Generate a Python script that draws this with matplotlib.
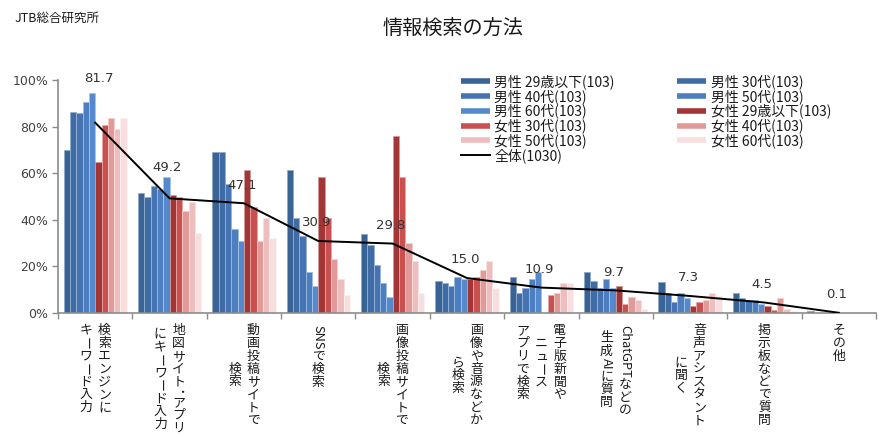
import re
import numpy as np
import matplotlib
matplotlib.use("Agg")
import matplotlib.pyplot as plt
from matplotlib.lines import Line2D

plt.rcParams['font.family'] = ['Noto Sans CJK JP', 'DejaVu Sans']

# ---------------- data ----------------
categories = [
    "検索エンジンに\nキーワード入力",
    "地図サイト・アプリ\nにキーワード入力",
    "動画投稿サイトで\n検索",
    "SNSで検索",
    "画像投稿サイトで\n検索",
    "画像や音源などか\nら検索",
    "電子版新聞や\nニュース\nアプリで検索",
    "ChatGPTなどの\n生成AIに質問",
    "音声アシスタント\nに聞く",
    "掲示板などで質問",
    "その他",
]

series_names = [
    "男性 29歳以下(103)", "男性 30代(103)", "男性 40代(103)", "男性 50代(103)", "男性 60代(103)",
    "女性 29歳以下(103)", "女性 30代(103)", "女性 40代(103)", "女性 50代(103)", "女性 60代(103)",
]
total_name = "全体(1030)"

m29 = [70.0, 51.4, 69.1, 61.4, 34.0, 13.6, 15.4, 17.4, 13.3, 8.4, 1.0]
m30 = [86.4, 49.6, 69.1, 40.9, 29.1, 12.7, 8.6, 13.6, 8.4, 6.6, 0.0]
m40 = [85.7, 54.5, 55.5, 33.2, 20.5, 11.7, 10.9, 10.9, 4.8, 5.6, 0.0]
m50 = [90.6, 53.4, 35.9, 17.7, 12.7, 15.4, 14.4, 14.4, 8.4, 5.7, 0.0]
m60 = [94.3, 58.3, 30.9, 11.8, 6.8, 14.4, 17.4, 10.9, 6.6, 3.8, 0.0]
f29 = [64.9, 50.5, 61.4, 58.3, 76.0, 14.7, 0.0, 11.7, 3.0, 3.0, 0.0]
f30 = [80.6, 49.6, 45.4, 40.9, 58.3, 15.4, 7.6, 3.7, 4.8, 1.4, 0.0]
f40 = [83.7, 43.6, 30.9, 23.2, 30.1, 18.4, 8.6, 6.7, 5.7, 6.6, 0.0]
f50 = [78.8, 47.7, 40.8, 14.5, 22.4, 22.3, 12.7, 5.7, 8.4, 1.9, 0.0]
f60 = [83.7, 34.2, 32.0, 7.6, 8.6, 10.7, 12.7, 1.7, 7.4, 1.0, 0.0]
total = [81.7, 49.2, 47.1, 30.9, 29.8, 15.0, 10.9, 9.7, 7.3, 4.5, 0.1]

series_values = [m29, m30, m40, m50, m60, f29, f30, f40, f50, f60]

colors = ["#3A6395", "#3F6CA5", "#4674B3", "#4C7EC0", "#5589CE",
          "#A23535", "#C9504E", "#E29A99", "#EEBDBD", "#F8DEDE"]
edge_colors = ["#8FA8C8", "#93AED2", "#98B3D8", "#9DBCE0", "#A6C5EA",
               "#D49A9A", "#E6A5A4", "#F2CDCC", "#F7E0E0", "#FDF2F2"]

# ---------------- figure ----------------
fig = plt.figure(figsize=(8.91, 4.37), dpi=100)
ax = fig.add_axes([58/891, 1-313/437, (876-58)/891, (313-80)/437])

n = len(categories)
x = np.arange(n)
bw = 0.085
for j, (vals, col, ec) in enumerate(zip(series_values, colors, edge_colors)):
    ax.bar(x + (j - 4.5) * bw, vals, width=bw, color=col, edgecolor=ec, linewidth=0.6,
           label=series_names[j], zorder=2)

ax.plot(x, total, color='black', lw=1.4, zorder=3, label=total_name)

label_offsets = [(3, 32)] + [(-1.5, 22.5)] + [(-1.5, 13)] * (n - 2)
for xi, v, (dx, dy) in zip(x, total, label_offsets):
    ax.annotate(f"{v:.1f}", xy=(xi, v), xytext=(dx, dy), textcoords='offset points',
                ha='center', va='center', fontsize=9.5, color='#333333',
                family='DejaVu Sans', zorder=4)

ax.set_xlim(-0.5, n - 0.5)
ax.set_ylim(0, 100)
ax.set_yticks(np.arange(0, 101, 20))
ax.set_yticklabels([f"{t}%" for t in range(0, 101, 20)], family='DejaVu Sans',
                   fontsize=9, color='#404040')
ax.set_xticks(np.arange(-0.5, n, 1))
ax.set_xticklabels([])
for s in ['top', 'right']:
    ax.spines[s].set_visible(False)
for s in ['left', 'bottom']:
    ax.spines[s].set_color('#8C8C8C')
    ax.spines[s].set_linewidth(1.2)
ax.tick_params(direction='out', length=4, color='#8C8C8C', width=1)
ax.tick_params(axis='y', pad=3)

# ---------------- vertical category labels ----------------
renderer = fig.canvas.get_renderer()
FS = 9.3
COLGAP = 13.3
TOP = 7.8
trans = ax.get_xaxis_transform()


def tokens(s):
    out = []
    for m in re.finditer(r'[A-Za-z0-9]+|.', s):
        t = m.group(0)
        if re.match(r'[A-Za-z0-9]', t):
            out.append(('lat', t))
        elif t in 'ー':
            out.append(('rot', t))
        elif t in '・':
            out.append(('dot', t))
        else:
            out.append(('cjk', t))
    return out


def lat_len(t):
    tmp = fig.text(0, 0, t, fontsize=FS)
    w = tmp.get_window_extent(renderer).width * 72 / fig.dpi
    tmp.remove()
    return w


def tok_len(kind, t):
    if kind == 'lat':
        return lat_len(t) + 1.0
    if kind == 'dot':
        return FS * 0.6
    return FS * 1.0


for xi, cat in zip(x, categories):
    cols = cat.split("\n")
    toks = [tokens(c) for c in cols]
    lens = [sum(tok_len(k, t) for k, t in tk) for tk in toks]
    L = max(lens)
    nc = len(cols)
    for k, tk in enumerate(toks):
        dx = ((nc - 1) / 2 - k) * COLGAP
        y = -TOP - (L - lens[k]) / 2
        for kind, t in tk:
            ln = tok_len(kind, t)
            cy = y - ln / 2
            if kind == 'dot':
                ax.annotate("·", xy=(xi, 0), xycoords=trans, xytext=(dx, cy),
                            textcoords='offset points', ha='center', va='center',
                            rotation=-90, fontsize=FS * 1.4, color='#1A1A1A',
                            family='DejaVu Sans', annotation_clip=False)
            else:
                rot = -90 if kind in ('lat', 'rot') else 0
                ax.annotate(t, xy=(xi, 0), xycoords=trans, xytext=(dx, cy),
                            textcoords='offset points', ha='center', va='center',
                            rotation=rot, fontsize=FS, color='#1A1A1A',
                            annotation_clip=False)
            y -= ln

# ---------------- legend ----------------
handles = [Line2D([], [], color=c, lw=4, solid_capstyle='butt') for c in colors]
handles.append(Line2D([], [], color='black', lw=1.4))
labels = series_names + [total_name]
order = [0, 2, 4, 6, 8, 10, 1, 3, 5, 7, 9]
fig.legend([handles[i] for i in order], [labels[i] for i in order],
           loc='upper left', bbox_to_anchor=(461/891, 1 - 74/437), ncol=2,
           frameon=False, fontsize=10, handlelength=2.1, handletextpad=0.3,
           labelspacing=0.0, columnspacing=4.5, borderpad=0, borderaxespad=0,
           labelcolor='#1A1A1A')

# ---------------- titles ----------------
fig.text(453/891, 1 - 28/437, "情報検索の方法", ha='center', va='center', fontsize=14.5,
         color='#1A1A1A')
fig.text(15/891, 1 - 18/437, "JTB総合研究所", ha='left', va='center', fontsize=9,
         color='#1A1A1A')

fig.savefig("out.png", dpi=100)
